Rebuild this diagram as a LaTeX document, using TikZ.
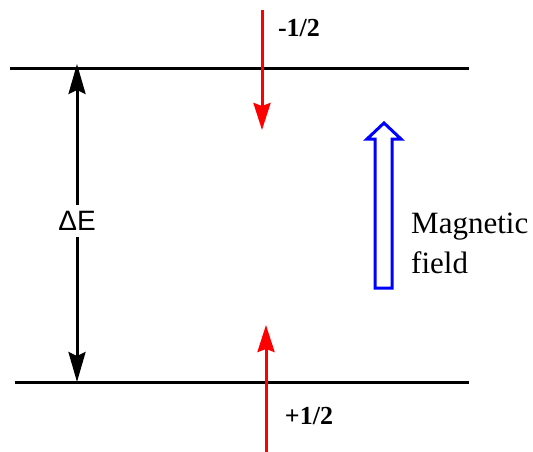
\documentclass[tikz,border=0pt]{standalone}
\usepackage{fontspec}
\setmainfont{Liberation Serif}
\setsansfont{Liberation Sans}
\usetikzlibrary{arrows.meta}
\definecolor{rosso}{HTML}{FF0000}
\definecolor{blu}{HTML}{0000FF}

\begin{document}
\begin{tikzpicture}[x=1pt,y=-1pt,
            every node/.style={inner sep=0pt},
            livello/.style={line width=3pt},
            salto/.style={line width=3pt, -{Stealth[length=30pt,width=17pt,inset=4pt]}},
            spin/.style={line width=3pt, color=rosso, -{Stealth[length=27pt,width=17pt,inset=3pt]}},
            etichetta/.style={font=\bfseries\fontsize{26}{28}\selectfont}]
        \useasboundingbox (0,0) rectangle (533,452);

        % Livelli di energia
        \coordinate (L1a) at (10,69);
        \coordinate (L1b) at (469,69);
        \coordinate (L2a) at (15,382);
        \coordinate (L2b) at (469,382);
        \draw[livello] (L1a) -- (L1b);
        \draw[livello] (L2a) -- (L2b);

        % Differenza di energia
        \coordinate (alto) at (77,64);
        \coordinate (basso) at (77,382);
        \node[inner ysep=6pt, font=\sffamily\fontsize{28}{30}\selectfont] (dE) at (77,221) {ΔE};
        \draw[salto] (dE.north) -- (alto);
        \draw[salto] (dE.south) -- (basso);

        % Spin
        \coordinate (s1) at (262,10);
        \coordinate (s1t) at (262,130);
        \coordinate (s2) at (266,452);
        \coordinate (s2t) at (266,325);
        \draw[spin] (s1) -- (s1t);
        \draw[spin] (s2) -- (s2t);
        \node[etichetta] (meno) at (299,28) {-1/2};
        \node[etichetta] (piu) at (309,416) {+1/2};

        % Campo magnetico
        \draw[blu, line width=3pt, line join=miter]
            (375,288) -- (375,139) -- (367,139) -- (384,123) -- (401,139)
            -- (392,139) -- (392,288) -- cycle;
        \node[anchor=west, align=left, font=\fontsize{31}{40}\selectfont] (campo) at (411,243) {Magnetic\\field};
    \end{tikzpicture}
\end{document}
